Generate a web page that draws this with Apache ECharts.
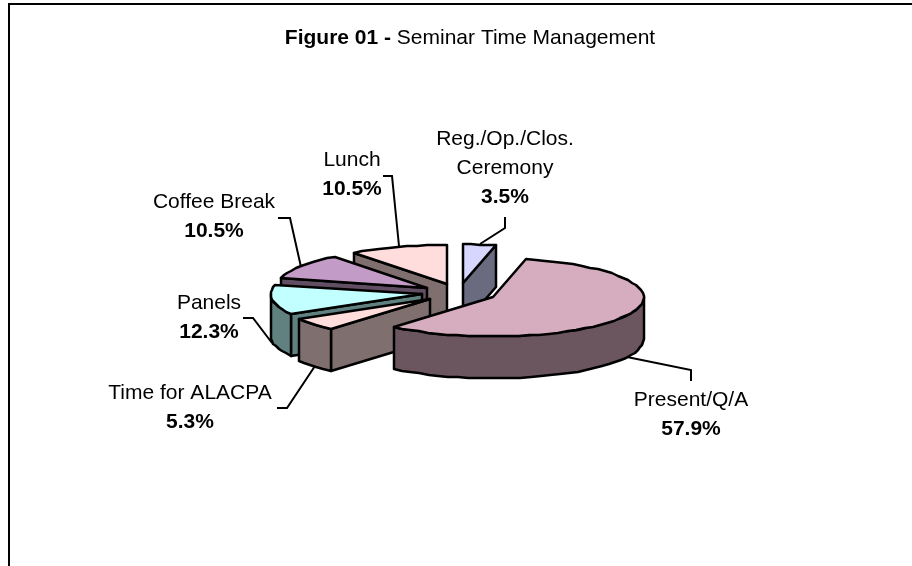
<!DOCTYPE html>
<html>
<head>
<meta charset="utf-8">
<style>
html, body { margin: 0; padding: 0; background: #fff; }
#chart { width: 912px; height: 566px; }
</style>
<script src="https://cdn.jsdelivr.net/npm/echarts@6/dist/echarts.min.js"></script>
</head>
<body>
<div id="chart"></div>
<script>
// data, clockwise from twelve o'clock
const categories = ['Reg./Op./Clos.\nCeremony', 'Present/Q/A', 'Time for ALACPA', 'Panels', 'Coffee Break', 'Lunch']
const shares = [3.5, 57.9, 5.3, 12.3, 10.5, 10.5]
const topColors = ['#D6D6FF', '#D6ACBF', '#FFDDDD', '#C2FFFF', '#C29CC6', '#FFDDDD']
const sideColors = ['#6B6B80', '#6B5660', '#806F6F', '#618080', '#614E63', '#806F6F']

// back to front
const drawOrder = [0, 5, 4, 3, 2, 1]

// label centre and leader line for each slice, in pixels
const labelPos = [[505, 168], [691, 415], [190, 408], [209, 318], [214, 217], [352, 175]]
const leaders = [
    [[505, 217], [505, 228], [480, 244]],
    [[691, 381], [691, 370], [627, 357]],
    [[277, 408], [287, 408], [315, 366]],
    [[243, 318], [253, 318], [272, 343]],
    [[278, 218], [290, 218], [301, 267]],
    [[383, 176], [392, 176], [399, 246]],
]

const explode = 0.25
const depth = 42
const arcStep = 4
const fontName = '"Liberation Sans", Arial, sans-serif'
const rad = Math.PI / 180

let sum = 0
const startAngles = shares.map((v) => {
    const a = (sum / 100) * 360
    sum += v
    return a
})
const endAngles = shares.map((v, i) => startAngles[i] + (v / 100) * 360)

const arcPoints = (ox, oy, from, to) => {
    const pts = []
    const n = Math.max(1, Math.ceil((to - from) / arcStep))
    for (let k = 0; k <= n; k++) {
        const a = (from + ((to - from) * k) / n) * rad
        pts.push([ox + Math.sin(a), oy + Math.cos(a)])
    }
    return pts
}

const renderSlice = (params, api) => {
    const i = api.value(0)
    const from = startAngles[i]
    const to = endAngles[i]
    const mid = ((from + to) / 2) * rad
    const ox = explode * Math.sin(mid)
    const oy = explode * Math.cos(mid)
    const toPx = (p) => api.coord(p).map(Math.round)
    const down = (p) => [p[0], p[1] + depth]
    const poly = (points, fill) => ({
        type: 'polygon',
        shape: { points },
        style: { fill, stroke: '#000', lineWidth: 2.5, lineJoin: 'round' },
    })

    const apex = toPx([ox, oy])
    const children = []
    // cut faces that look towards the viewer
    if (Math.sin(from * rad) < -0.001) {
        const c = toPx(arcPoints(ox, oy, from, from)[0])
        children.push(poly([apex, c, down(c), down(apex)], sideColors[i]))
    }
    if (Math.sin(to * rad) > 0.001) {
        const c = toPx(arcPoints(ox, oy, to, to)[0])
        children.push(poly([apex, c, down(c), down(apex)], sideColors[i]))
    }
    // outer rim, only the front half shows
    const rimFrom = Math.max(from, 90)
    const rimTo = Math.min(to, 270)
    if (rimTo > rimFrom) {
        const rim = arcPoints(ox, oy, rimFrom, rimTo).map(toPx)
        children.push(poly(rim.concat(rim.map(down).reverse()), sideColors[i]))
    }
    children.push(poly([apex].concat(arcPoints(ox, oy, from, to).map(toPx)), topColors[i]))

    return { type: 'group', children }
}

const leaderGraphics = leaders.map((points) => ({
    type: 'polyline',
    shape: { points },
    style: { fill: 'none', stroke: '#000', lineWidth: 2 },
    z: 5,
}))
const labelGraphics = categories.map((name, i) => ({
    type: 'text',
    x: labelPos[i][0],
    y: labelPos[i][1],
    z: 6,
    style: {
        text: `${name}\n{pct|${shares[i].toFixed(1)}%}`,
        fontFamily: fontName,
        fontSize: 21,
        lineHeight: 29,
        fill: '#000',
        align: 'center',
        verticalAlign: 'middle',
        rich: { pct: { fontFamily: fontName, fontSize: 21, fontWeight: 'bold', lineHeight: 29, fill: '#000' } },
    },
}))

const myChart = echarts.init(document.getElementById('chart'), null, { renderer: 'canvas' })
myChart.setOption({
    animation: false,
    backgroundColor: '#fff',
    title: {
        text: '{b|Figure 01 - }{n|Seminar Time Management}',
        left: 465,
        top: 23,
        textAlign: 'center',
        textStyle: {
            rich: {
                b: { fontFamily: fontName, fontSize: 21, fontWeight: 'bold', color: '#000' },
                n: { fontFamily: fontName, fontSize: 21, fontWeight: 'normal', color: '#000' },
            },
        },
    },
    // unit circle of the pie squashed into its ellipse
    grid: { left: 308, top: 254, width: 302, height: 78 },
    xAxis: { type: 'value', min: -1, max: 1, show: false },
    yAxis: { type: 'value', min: -1, max: 1, show: false },
    series: [
        {
            type: 'custom',
            coordinateSystem: 'cartesian2d',
            silent: true,
            clip: false,
            renderItem: renderSlice,
            data: drawOrder.map((i) => [i]),
            encode: { x: [], y: [] },
        },
    ],
    graphic: [
        {
            type: 'polyline',
            shape: { points: [[9, 566], [9, 4], [912, 4]] },
            style: { fill: 'none', stroke: '#000', lineWidth: 2 },
        },
        ...leaderGraphics,
        ...labelGraphics,
    ],
})
</script>
</body>
</html>
